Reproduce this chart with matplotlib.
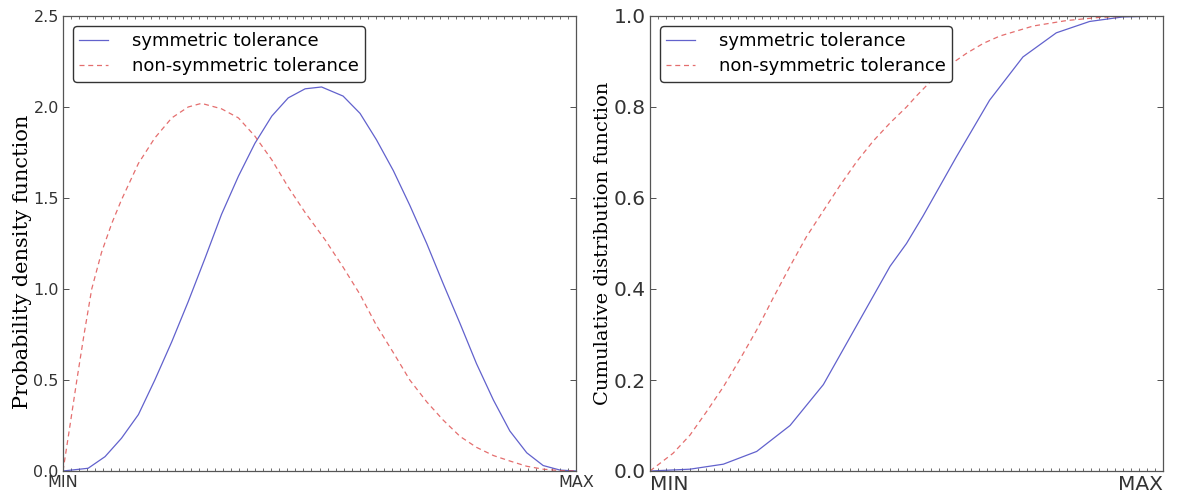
import matplotlib
matplotlib.use("Agg")
import matplotlib.pyplot as plt
from matplotlib.ticker import MultipleLocator, FormatStrFormatter

# ---- data (x normalised: 0 = MIN, 1 = MAX) ----
pdf_sym_x = [0.0, 0.049, 0.082, 0.114, 0.147, 0.179, 0.212, 0.244, 0.277, 0.309,
             0.342, 0.374, 0.407, 0.439, 0.472, 0.504, 0.546, 0.579, 0.611, 0.644,
             0.676, 0.709, 0.741, 0.774, 0.806, 0.839, 0.871, 0.904, 0.936, 0.969, 1.0]
pdf_sym_y = [0.0, 0.015, 0.079, 0.18, 0.31, 0.50, 0.71, 0.93, 1.17, 1.41,
             1.62, 1.80, 1.95, 2.05, 2.10, 2.11, 2.06, 1.965, 1.82, 1.65,
             1.46, 1.25, 1.03, 0.81, 0.59, 0.39, 0.22, 0.10, 0.03, 0.005, 0.0]

pdf_non_x = [0.0, 0.012, 0.027, 0.041, 0.056, 0.075, 0.095, 0.114, 0.147, 0.179,
             0.212, 0.244, 0.270, 0.309, 0.342, 0.374, 0.407, 0.439, 0.472, 0.511,
             0.546, 0.579, 0.611, 0.644, 0.676, 0.709, 0.741, 0.774, 0.806, 0.839,
             0.871, 0.904, 0.936, 0.97, 1.0]
pdf_non_y = [0.0, 0.22, 0.50, 0.75, 1.00, 1.20, 1.36, 1.49, 1.69, 1.83,
             1.94, 2.00, 2.02, 1.99, 1.94, 1.84, 1.71, 1.56, 1.42, 1.27,
             1.12, 0.97, 0.80, 0.65, 0.50, 0.38, 0.28, 0.19, 0.13, 0.085,
             0.055, 0.026, 0.01, 0.002, 0.0]

cdf_sym_x = [0.0, 0.078, 0.143, 0.208, 0.273, 0.338, 0.403, 0.468, 0.5, 0.532,
             0.597, 0.662, 0.727, 0.792, 0.857, 0.922, 1.0]
cdf_sym_y = [0.0, 0.004, 0.015, 0.043, 0.10, 0.19, 0.32, 0.45, 0.50, 0.56,
             0.69, 0.815, 0.91, 0.963, 0.988, 0.998, 1.0]

cdf_non_x = [0.0, 0.045, 0.078, 0.110, 0.143, 0.175, 0.208, 0.240, 0.273, 0.305,
             0.338, 0.370, 0.403, 0.435, 0.468, 0.500, 0.520, 0.552, 0.585, 0.617,
             0.650, 0.682, 0.747, 0.812, 0.877, 0.942, 1.0]
cdf_non_y = [0.0, 0.039, 0.079, 0.13, 0.185, 0.245, 0.31, 0.38, 0.45, 0.515,
             0.572, 0.627, 0.68, 0.725, 0.765, 0.80, 0.825, 0.862, 0.893, 0.918,
             0.94, 0.956, 0.978, 0.99, 0.997, 1.0, 1.0]

labels = ["symmetric tolerance", "non-symmetric tolerance"]
x_tick_labels = ["MIN", "MAX"]

W, H = 1188, 495
fig = plt.figure(figsize=(W / 100, H / 100), dpi=100)

ax1 = fig.add_axes([63 / W, (H - 471) / H, 513 / W, 455 / H])
ax2 = fig.add_axes([650 / W, (H - 471) / H, 513 / W, 455 / H])

blue = "#4646c4"
red = "#e05555"

for ax in (ax1, ax2):
    for s in ax.spines.values():
        s.set_color("#555555")
        s.set_linewidth(0.9)
    ax.tick_params(which="both", direction="in", top=True, right=True,
                   colors="#333333")
    ax.tick_params(which="major", length=4, width=0.6)
    ax.tick_params(which="minor", length=2.5, width=0.5)
    ax.xaxis.set_minor_locator(MultipleLocator(1 / 64))
    ax.set_xlim(0, 1)

legend_kw = dict(loc="upper left", fontsize=13, fancybox=True, framealpha=1,
                 edgecolor="#333333", borderpad=0.35, handlelength=1.6,
                 handletextpad=1.3, labelspacing=0.4, borderaxespad=0.55)

# ---- left: probability density ----
ax1.plot(pdf_sym_x, pdf_sym_y, color=blue, lw=0.9, alpha=0.85, label=labels[0])
ax1.plot(pdf_non_x, pdf_non_y, color=red, lw=0.9, ls="--", alpha=0.85,
         dashes=(4, 3), label=labels[1])
ax1.set_ylim(0, 2.5)
ax1.yaxis.set_major_locator(MultipleLocator(0.5))
ax1.yaxis.set_major_formatter(FormatStrFormatter("%.1f"))
ax1.set_xticks([0, 1])
ax1.set_xticklabels(x_tick_labels)
ax1.tick_params(axis="both", which="major", labelsize=11.5, pad=3)
ax1.set_ylabel("Probability density function", family="DejaVu Serif",
               fontsize=15)
ax1.yaxis.set_label_coords(-0.061, 0.46)
ax1.legend(**legend_kw)

# ---- right: cumulative distribution ----
ax2.plot(cdf_sym_x, cdf_sym_y, color=blue, lw=0.9, alpha=0.85, label=labels[0])
ax2.plot(cdf_non_x, cdf_non_y, color=red, lw=0.9, ls="--", alpha=0.85,
         dashes=(4, 3), label=labels[1])
ax2.set_ylim(0, 1.0)
ax2.yaxis.set_major_locator(MultipleLocator(0.2))
ax2.yaxis.set_major_formatter(FormatStrFormatter("%.1f"))
ax2.set_xticks([0, 1])
ax2.set_xticklabels(x_tick_labels)
ax2.tick_params(axis="both", which="major", labelsize=14.5, pad=3)
lbls = ax2.get_xticklabels()
lbls[0].set_horizontalalignment("left")
lbls[1].set_horizontalalignment("right")
ax2.set_ylabel("Cumulative distribution function", family="DejaVu Serif",
               fontsize=14)
ax2.yaxis.set_label_coords(-0.075, 0.5)
ax2.legend(**legend_kw)

fig.savefig("out.png", dpi=100)
